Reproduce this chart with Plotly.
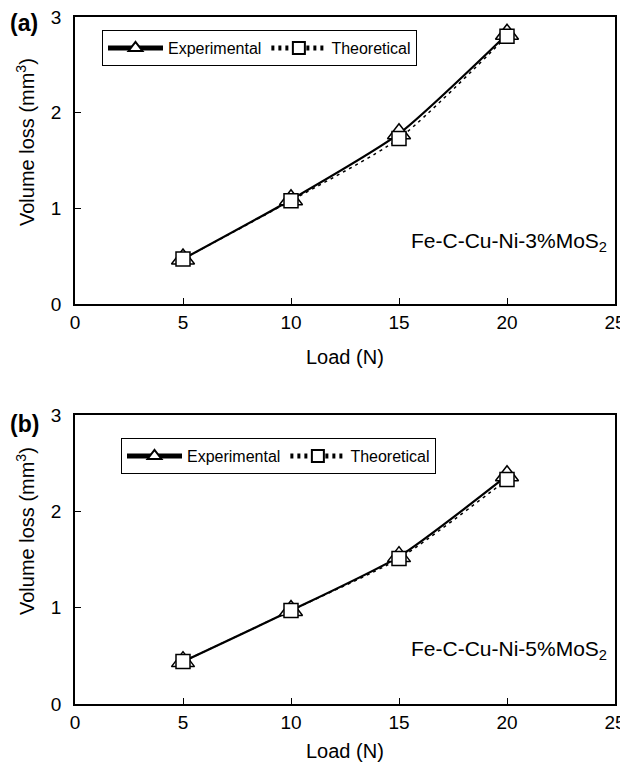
import plotly.graph_objects as go

load = [5, 10, 15, 20]
exp_a = [0.47, 1.09, 1.78, 2.82]
theo_a = [0.47, 1.08, 1.73, 2.80]
exp_b = [0.44, 0.97, 1.53, 2.37]
theo_b = [0.44, 0.97, 1.51, 2.33]
x_ticks = [0, 5, 10, 15, 20, 25]
y_ticks = [0, 1, 2, 3]

# page body has an 8px margin; positions below are in window pixels
OFF = 8
W, H = 628, 770 - 2 * OFF
FONT = "Liberation Sans, Arial, Helvetica, sans-serif"

def px(x):
    return (x - OFF) / W

def py(y):
    return 1 - (y - OFF) / H

fig = go.Figure()

panels = [
    dict(exp=exp_a, theo=theo_a, xa="x", ya="y", legend="legend"),
    dict(exp=exp_b, theo=theo_b, xa="x2", ya="y2", legend="legend2"),
]

for p in panels:
    fig.add_trace(go.Scatter(
        x=load, y=p["exp"], name="Experimental", mode="lines+markers",
        xaxis=p["xa"], yaxis=p["ya"], legend=p["legend"],
        line=dict(color="black", width=2.2, shape="spline", smoothing=0.6),
        marker=dict(symbol="triangle-up", size=20, color="white",
                    line=dict(color="black", width=1.5)),
    ))
    fig.add_trace(go.Scatter(
        x=load, y=p["theo"], name="Theoretical", mode="lines+markers",
        xaxis=p["xa"], yaxis=p["ya"], legend=p["legend"],
        line=dict(color="black", width=1.5, dash="3px,4px", shape="spline", smoothing=0.6),
        marker=dict(symbol="square", size=14, color="white",
                    line=dict(color="black", width=1.5)),
    ))

xdom = [px(75), px(615)]
axis_common = dict(
    showline=True, linecolor="black", linewidth=1.5, mirror=True,
    ticks="inside", ticklen=6, tickwidth=1, tickcolor="black",
    showgrid=False, zeroline=False, automargin=False,
    ticklabeloverflow="allow",
    tickfont=dict(family=FONT, size=19, color="black"),
)

legend_common = dict(
    orientation="h", xanchor="left", yanchor="top",
    bordercolor="black", borderwidth=1, bgcolor="white",
    font=dict(family=FONT, size=16, color="black"),
    itemwidth=55, itemsizing="constant", tracegroupgap=0,
)

fig.update_layout(
    width=W, height=H,
    margin=dict(l=0, r=0, t=0, b=0, autoexpand=False),
    paper_bgcolor="white", plot_bgcolor="white",
    font=dict(family=FONT, color="black"),
    xaxis=dict(domain=xdom, range=[0, 25], tickvals=x_ticks, anchor="y",
               ticklabelstandoff=0, **axis_common),
    yaxis=dict(domain=[py(304), py(17)], range=[0, 3], tickvals=y_ticks, anchor="x",
               ticklabelstandoff=8, **axis_common),
    xaxis2=dict(domain=xdom, range=[0, 25], tickvals=x_ticks, anchor="y2",
                ticklabelstandoff=0, **axis_common),
    yaxis2=dict(domain=[py(704), py(415)], range=[0, 3], tickvals=y_ticks, anchor="x2",
                ticklabelstandoff=8, **axis_common),
    legend=dict(x=px(102), y=py(30), **legend_common),
    legend2=dict(x=px(121), y=py(438), **legend_common),
)

ann = []
for label, ylab, ytitle, yx, ycomp, comp in [
    ("<b>(a)</b>", 23, 142, 357, 242, "Fe-C-Cu-Ni-3%MoS<sub>2</sub>"),
    ("<b>(b)</b>", 424, 531, 751, 650, "Fe-C-Cu-Ni-5%MoS<sub>2</sub>"),
]:
    ann.append(dict(text=label, x=px(8), y=py(ylab), xref="paper", yref="paper",
                    xanchor="left", yanchor="middle", showarrow=False,
                    font=dict(family=FONT, size=23, color="black")))
    ann.append(dict(text="Volume loss (mm<sup>3</sup>)", x=px(25), y=py(ytitle),
                    xref="paper", yref="paper", textangle=-90,
                    xanchor="center", yanchor="middle", showarrow=False,
                    font=dict(family=FONT, size=20, color="black")))
    ann.append(dict(text="Load (N)", x=px(345), y=py(yx), xref="paper", yref="paper",
                    xanchor="center", yanchor="middle", showarrow=False,
                    font=dict(family=FONT, size=20, color="black")))
    ann.append(dict(text=comp, x=px(609), y=py(ycomp),
                    xref="paper", yref="paper", xanchor="right", yanchor="middle",
                    showarrow=False, font=dict(family=FONT, size=21, color="black")))
fig.update_layout(annotations=ann)

fig.write_html("out.html")
